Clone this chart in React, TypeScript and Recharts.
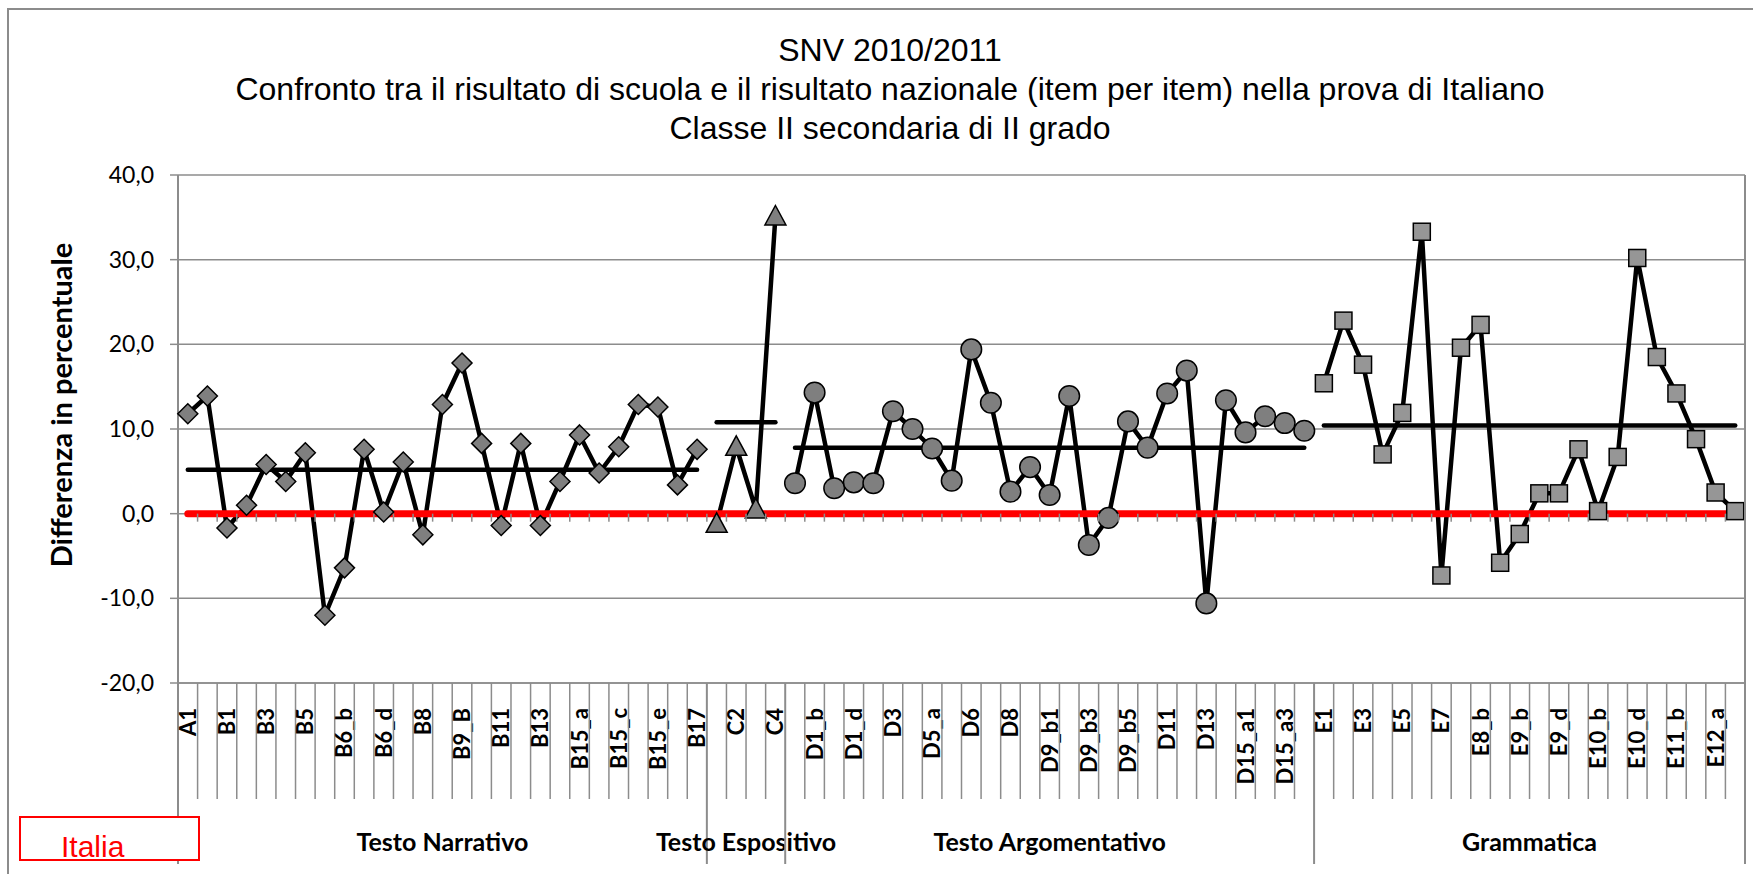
import React from 'react';
import { LineChart, Line, XAxis, YAxis, CartesianGrid } from 'recharts';

const categories = [
  'A1', 'A2', 'B1', 'B2', 'B3', 'B4', 'B5', 'B6_a', 'B6_b', 'B6_c', 'B6_d', 'B7', 'B8', 'B9_A',
  'B9_B', 'B10', 'B11', 'B12', 'B13', 'B14', 'B15_a', 'B15_b', 'B15_c', 'B15_d', 'B15_e', 'B16', 'B17',
  'C1', 'C2', 'C3', 'C4',
  'D1_a', 'D1_b', 'D1_c', 'D1_d', 'D2', 'D3', 'D4', 'D5_a', 'D5_b', 'D6', 'D7', 'D8', 'D9_a',
  'D9_b1', 'D9_b2', 'D9_b3', 'D9_b4', 'D9_b5', 'D10', 'D11', 'D12', 'D13', 'D14', 'D15_a1',
  'D15_a2', 'D15_a3', 'D15_a4',
  'E1', 'E2', 'E3', 'E4', 'E5', 'E6', 'E7', 'E8_a', 'E8_b', 'E9_a', 'E9_b', 'E9_c', 'E9_d',
  'E10_a', 'E10_b', 'E10_c', 'E10_d', 'E11_a', 'E11_b', 'E11_c', 'E12_a', 'E12_b',
];

const narrativo = [
  11.8, 13.9, -1.7, 1.0, 5.8, 3.8, 7.2, -12.0, -6.4, 7.6, 0.2, 6.1, -2.5, 12.9, 17.8, 8.3, -1.4,
  8.3, -1.4, 3.8, 9.3, 4.8, 7.9, 12.9, 12.6, 3.4, 7.6,
];
const espositivo = [-1.2, 7.9, 0.5, 35.1];
const argomentativo = [
  3.6, 14.3, 3.0, 3.7, 3.6, 12.1, 10.0, 7.7, 3.9, 19.4, 13.1, 2.6, 5.5, 2.2, 13.9, -3.7, -0.5,
  10.9, 7.8, 14.2, 16.9, -10.6, 13.4, 9.6, 11.5, 10.7, 9.8,
];
const grammatica = [
  15.4, 22.8, 17.6, 7.0, 11.9, 33.3, -7.3, 19.6, 22.3, -5.8, -2.4, 2.4, 2.4, 7.6, 0.3, 6.7, 30.2,
  18.5, 14.2, 8.8, 2.5, 0.3,
];

const groupNames = ['Testo Narrativo', 'Testo Espositivo', 'Testo Argomentativo', 'Grammatica'];
const groupSeries = [narrativo, espositivo, argomentativo, grammatica];
const groupMeans = [5.2, 10.8, 7.8, 10.4];
const italia = 0;

const yTicks = [-20, -10, 0, 10, 20, 30, 40];

// layout
const W = 1753;
const H = 874;
const PLOT_LEFT = 178;
const PLOT_RIGHT = 1745;
const PLOT_TOP = 175;
const PLOT_BOTTOM = 683;
const STEP = (PLOT_RIGHT - PLOT_LEFT) / categories.length;
const Y_ZERO = PLOT_TOP + ((40 - 0) / 60) * (PLOT_BOTTOM - PLOT_TOP);
const GRID = '#8c8c8c';

const groupStarts: number[] = [];
{
  let s = 0;
  groupSeries.forEach((g) => {
    groupStarts.push(s);
    s += g.length;
  });
}

const keys = ['narr', 'espo', 'argo', 'gram'];
const meanKeys = ['narrMean', 'espoMean', 'argoMean', 'gramMean'];

const data = categories.map((cat, i) => {
  const row: any = { cat, italia };
  groupSeries.forEach((g, gi) => {
    const j = i - groupStarts[gi];
    const inside = j >= 0 && j < g.length;
    row[keys[gi]] = inside ? g[j] : null;
    row[meanKeys[gi]] = inside ? groupMeans[gi] : null;
  });
  return row;
});

const makeDot = (shape: string) => (props: any) => {
  const { cx, cy, value, index } = props;
  const k = `${shape}-${index}`;
  if (value == null || cx == null || cy == null) return <g key={k} />;
  if (shape === 'diamond') {
    const r = 10;
    return (
      <path key={k} d={`M${cx},${cy - r}L${cx + r},${cy}L${cx},${cy + r}L${cx - r},${cy}Z`}
        fill="#7f7f7f" stroke="#000" strokeWidth={1.5} />
    );
  }
  if (shape === 'triangle') {
    return (
      <path key={k} d={`M${cx},${cy - 11}L${cx + 10.5},${cy + 8.5}L${cx - 10.5},${cy + 8.5}Z`}
        fill="#7f7f7f" stroke="#000" strokeWidth={1.5} />
    );
  }
  if (shape === 'circle') {
    return <circle key={k} cx={cx} cy={cy} r={10.3} fill="#7f7f7f" stroke="#000" strokeWidth={1.5} />;
  }
  return (
    <rect key={k} x={cx - 8.5} y={cy - 8.5} width={17} height={17}
      fill="#969696" stroke="#000" strokeWidth={1.5} />
  );
};

const shapes = ['diamond', 'triangle', 'circle', 'square'];

const CategoryTick = (props: any) => {
  const { x, y, index, payload } = props;
  const left = x - STEP / 2;
  const gi = groupStarts.indexOf(index);
  const parts: React.ReactNode[] = [];
  // small ticks on the zero line
  parts.push(<line key="zt" x1={left} x2={left} y1={Y_ZERO} y2={Y_ZERO + 8} stroke={GRID} strokeWidth={1.5} />);
  if (index === categories.length - 1) {
    parts.push(<line key="zt2" x1={x + STEP / 2} x2={x + STEP / 2} y1={Y_ZERO} y2={Y_ZERO + 8} stroke={GRID} strokeWidth={1.5} />);
    parts.push(<line key="rb" x1={x + STEP / 2} x2={x + STEP / 2} y1={PLOT_TOP} y2={y + 181} stroke={GRID} strokeWidth={2} />);
  }
  if (gi >= 0) {
    parts.push(<line key="gs" x1={left} x2={left} y1={y} y2={y + 181} stroke={GRID} strokeWidth={2} />);
    const n = groupSeries[gi].length;
    const cx = x + ((n - 1) / 2) * STEP;
    parts.push(
      <text key="gl" x={cx} y={y + 168} textAnchor="middle" fontFamily="Lato, sans-serif"
        fontWeight="bold" fontSize={25} fill="#000">
        {groupNames[gi]}
      </text>
    );
  } else {
    parts.push(<line key="cs" x1={left} x2={left} y1={y} y2={y + 116} stroke={GRID} strokeWidth={1.5} />);
  }
  if (index % 2 === 0) {
    parts.push(
      <text key="lb" transform={`translate(${x + 8},${y + 25}) rotate(-90)`} textAnchor="end"
        fontFamily="Lato, sans-serif" fontWeight="bold" fontSize={22} fill="#000">
        {payload.value}
      </text>
    );
  }
  return <g>{parts}</g>;
};

const fmt = (v: number) => v.toFixed(1).replace('.', ',');

export default function App() {
  return (
    <div style={{ position: 'absolute', left: 0, top: 0, width: W, height: H, background: '#fff', overflow: 'hidden' }}>
      <div style={{ position: 'absolute', left: 7, top: 8, width: W, height: H,
        borderTop: `2px solid ${GRID}`, borderLeft: `2px solid ${GRID}` }} />
      <div style={{ position: 'absolute', left: 0, top: 31, width: 1780, textAlign: 'center',
        fontFamily: '"Liberation Sans", Arial, sans-serif', fontSize: 32, lineHeight: '39px', color: '#000' }}>
        <div>SNV 2010/2011</div>
        <div>Confronto tra il risultato di scuola e il risultato nazionale (item per item) nella prova di Italiano</div>
        <div>Classe II secondaria di II grado</div>
      </div>
      <div style={{ position: 'absolute', left: 61 - 250, top: 405 - 20, width: 500, height: 40,
        lineHeight: '40px', textAlign: 'center', transform: 'rotate(-90deg)',
        fontFamily: 'Lato, sans-serif', fontWeight: 'bold', fontSize: 29, color: '#000' }}>
        Differenza in percentuale
      </div>
      <div style={{ position: 'absolute', left: 0, top: 0 }}>
        <LineChart width={W} height={H} data={data}
          margin={{ top: PLOT_TOP, right: W - PLOT_RIGHT, bottom: 0, left: 0 }}>
          <CartesianGrid vertical={false} stroke={GRID} strokeWidth={1.5} />
          <XAxis dataKey="cat" scale="point" interval={0} height={H - PLOT_BOTTOM}
            padding={{ left: STEP / 2, right: STEP / 2 }} axisLine={{ stroke: GRID, strokeWidth: 1.5 }}
            tickLine={false} tickSize={0} tickMargin={0} tick={<CategoryTick />} />
          <YAxis width={PLOT_LEFT} domain={[-20, 40]} ticks={yTicks} interval={0}
            tickFormatter={fmt} axisLine={{ stroke: GRID, strokeWidth: 2 }}
            tickLine={{ stroke: GRID, strokeWidth: 1.5 }} tickSize={8} tickMargin={16}
            tick={{ fontFamily: 'Lato, sans-serif', fontSize: 23, fill: '#000' }} />
          {keys.map((k, gi) => (
            <Line key={k} dataKey={k} stroke="#000" strokeWidth={4.5} strokeLinejoin="round"
              dot={makeDot(shapes[gi])} activeDot={false} isAnimationActive={false} />
          ))}
          {meanKeys.map((k) => (
            <Line key={k} dataKey={k} stroke="#000" strokeWidth={4.5} strokeLinecap="round"
              dot={false} activeDot={false} isAnimationActive={false} />
          ))}
          <Line dataKey="italia" stroke="#ff0000" strokeWidth={7} strokeLinecap="round"
            dot={false} activeDot={false} isAnimationActive={false} />
        </LineChart>
      </div>
      <div style={{ position: 'absolute', left: 19, top: 816, width: 177, height: 41,
        border: '2px solid #ff0000', background: '#fff' }} />
      <div style={{ position: 'absolute', left: 61, top: 860 - 28, fontFamily: '"Liberation Sans", Arial, sans-serif',
        fontSize: 30, lineHeight: '30px', color: '#ff0000' }}>
        Italia
      </div>
    </div>
  );
}
